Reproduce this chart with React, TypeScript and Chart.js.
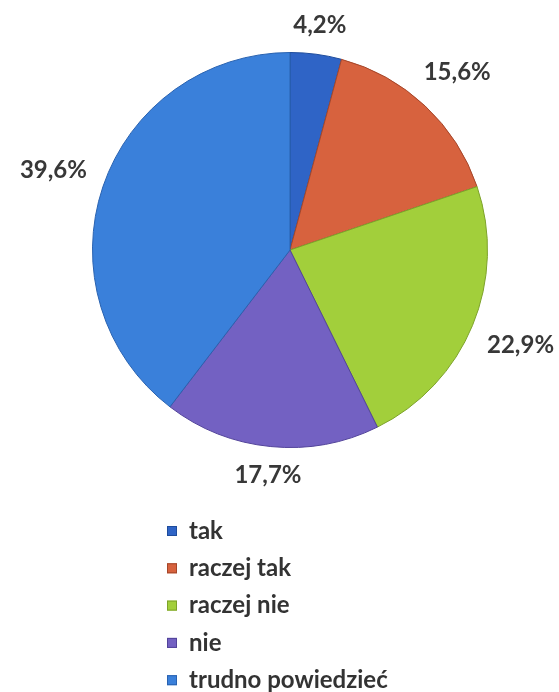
import React, { useEffect, useRef } from "react";
import { Chart, registerables } from "chart.js";

Chart.register(...registerables);

const categories = ["tak", "raczej tak", "raczej nie", "nie", "trudno powiedzieć"];
const values = [4.2, 15.6, 22.9, 17.7, 39.6];
const colors = ["#2F64C6", "#D7623E", "#A2CF3B", "#7361C2", "#3A80DA"];
const borderColors = ["#1E4C9C", "#A4462A", "#7DA22A", "#52439A", "#2962B0"];

const formatPct = (v: number) => v.toFixed(1).replace(".", ",") + "%";

const outsideLabels = {
  id: "outsideLabels",
  afterDatasetsDraw(chart: any) {
    const ctx = chart.ctx;
    const meta = chart.getDatasetMeta(0);
    const data = chart.data.datasets[0].data as number[];
    ctx.save();
    ctx.font = "bold 24px Lato";
    ctx.fillStyle = "#383838";
    ctx.textAlign = "center";
    ctx.textBaseline = "middle";
    meta.data.forEach((arc: any, i: number) => {
      const p = arc.getProps(["x", "y", "startAngle", "endAngle", "outerRadius"], true);
      const mid = (p.startAngle + p.endAngle) / 2;
      const dx = Math.cos(mid);
      const dy = Math.sin(mid);
      const text = formatPct(data[i]);
      const w = ctx.measureText(text).width;
      const h = 16;
      const d = p.outerRadius + 18 + (Math.abs(dx) * w) / 2 + (Math.abs(dy) * h) / 2;
      ctx.fillText(text, p.x + dx * d, p.y + dy * d);
    });
    ctx.restore();
  },
};

const listLegend = {
  id: "listLegend",
  afterDraw(chart: any, _args: any, opts: any) {
    const ctx = chart.ctx;
    const labels = chart.data.labels as string[];
    const ds = chart.data.datasets[0];
    ctx.save();
    ctx.font = "bold 24px Lato";
    ctx.textBaseline = "middle";
    ctx.textAlign = "left";
    labels.forEach((lab, i) => {
      const y = opts.top + i * opts.rowHeight;
      ctx.fillStyle = ds.backgroundColor[i];
      ctx.fillRect(opts.left, y - 5, 10, 10);
      ctx.strokeStyle = ds.borderColor[i];
      ctx.lineWidth = 1;
      ctx.strokeRect(opts.left + 0.5, y - 4.5, 9, 9);
      ctx.fillStyle = "#333333";
      ctx.fillText(lab, opts.left + 22, y);
    });
    ctx.restore();
  },
};

export default function App() {
  const ref = useRef<HTMLCanvasElement>(null);
  useEffect(() => {
    document.body.style.margin = "0";
    const chart = new Chart(ref.current as HTMLCanvasElement, {
      type: "pie",
      data: {
        labels: categories,
        datasets: [
          {
            data: values,
            backgroundColor: colors,
            borderColor: borderColors,
            borderWidth: 1,
          },
        ],
      },
      options: {
        responsive: false,
        animation: false,
        devicePixelRatio: 1,
        layout: { padding: { left: 92, right: 71, top: 52, bottom: 244 } },
        plugins: {
          legend: { display: false },
          tooltip: { enabled: false },
          listLegend: { left: 167, top: 531, rowHeight: 37.3 },
        } as any,
      },
      plugins: [outsideLabels, listLegend],
    });
    return () => chart.destroy();
  }, []);
  return (
    <div style={{ width: 559, height: 692, background: "#ffffff" }}>
      <canvas ref={ref} width={559} height={692} />
    </div>
  );
}
